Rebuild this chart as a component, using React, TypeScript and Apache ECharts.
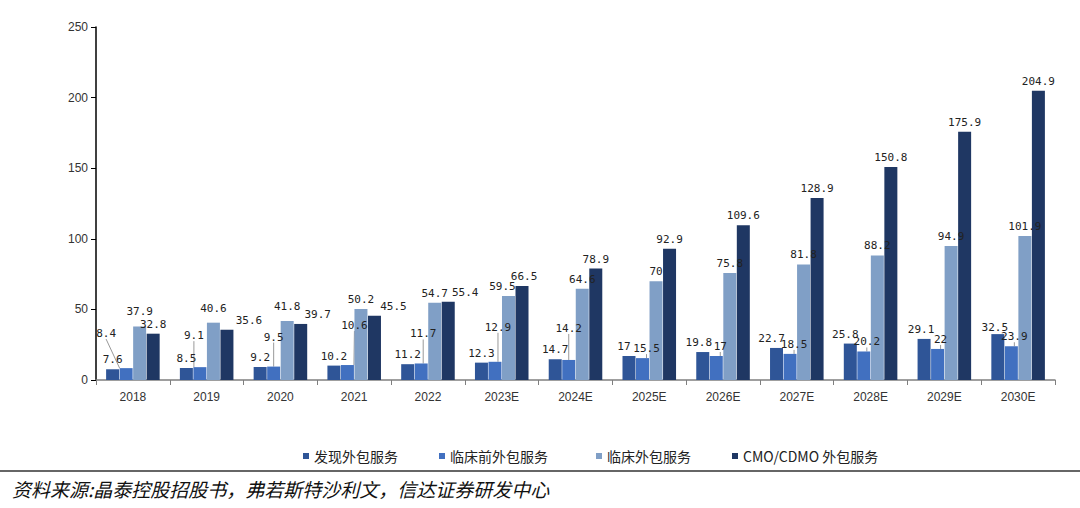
import React, { useEffect, useRef } from "react";
import * as echarts from "echarts";

const categories = ["2018", "2019", "2020", "2021", "2022", "2023E", "2024E", "2025E", "2026E", "2027E", "2028E", "2029E", "2030E"];
const seriesNames = ["发现外包服务", "临床前外包服务", "临床外包服务", "CMO/CDMO 外包服务"];
const discovery = [7.6, 8.5, 9.2, 10.2, 11.2, 12.3, 14.7, 17, 19.8, 22.7, 25.8, 29.1, 32.5];
const preclinical = [8.4, 9.1, 9.5, 10.6, 11.7, 12.9, 14.2, 15.5, 17, 18.5, 20.2, 22, 23.9];
const clinical = [37.9, 40.6, 41.8, 50.2, 54.7, 59.5, 64.6, 70, 75.8, 81.8, 88.2, 94.9, 101.9];
const cmo = [32.8, 35.6, 39.7, 45.5, 55.4, 66.5, 78.9, 92.9, 109.6, 128.9, 150.8, 175.9, 204.9];
const yTicks = [0, 50, 100, 150, 200, 250];

// label displacement (style only)
const discDx = [0, 0, 0, 0, 0, 0, 0, -5, -4, -5, -5, -3, -3];
const discDy = [0, 0, 0, 0, 0, 0, 0, 0, 0, 0, 0, 0, 3];
const preDx = [-20, -6, 0, 7, 2, 3, 0, 4, 4, 4, 3, 3, 3];
const preDy = [-25, -22, -20, -30, -20, -25, -22, 0, 0, 0, 0, 0, 0];
const clinDx = [0, 0, 0, 0, 0, -6, 0, 0, 0, 0, 0, 0, 0];
const clinDy = [-5, -5, -5, 0, 0, 0, 0, 0, 0, 0, 0, 0, 0];
const cmoDx = [0, 22, 17, 19, 17, 2, 0, 0, 0, 0, 0, 0, 0];

const colors = ["#2F5597", "#4170C0", "#809FC6", "#1F3763"];

export default function App() {
  const ref = useRef<HTMLDivElement>(null);
  useEffect(() => {
    if (!ref.current) return;
    const chart = echarts.init(ref.current, null, { renderer: "svg" });
    const labelBase = {
      show: true,
      position: "top" as const,
      distance: 4,
      fontFamily: "DejaVu Sans Mono",
      fontSize: 11,
      color: "#222",
    };
    const mk = (name: string, data: number[], color: string, extra: any = {}) => ({
      name,
      type: "bar",
      data,
      barWidth: 13,
      barGap: "4%",
      itemStyle: { color },
      label: labelBase,
      ...extra,
    });
    const legendLefts = [298, 434, 591, 727];
    chart.setOption({
      animation: false,
      color: colors,
      grid: { left: 96, right: 25, top: 27, bottom: 128 },
      legend: seriesNames.map((n, i) => ({
        data: [n],
        left: legendLefts[i],
        top: 444,
        itemWidth: 6,
        itemHeight: 6,
        itemGap: 6,
        icon: "rect",
        textStyle: { fontFamily: "Noto Sans CJK SC", fontSize: 14, color: "#222" },
      })),
      xAxis: {
        type: "category",
        data: categories,
        axisLine: { lineStyle: { color: "#7f7f7f", width: 1.5 } },
        axisTick: { show: true, length: 5, lineStyle: { color: "#7f7f7f" } },
        axisLabel: { fontFamily: "Liberation Sans", fontSize: 12, color: "#333", margin: 11 },
      },
      yAxis: {
        type: "value",
        min: yTicks[0],
        max: yTicks[yTicks.length - 1],
        interval: 50,
        splitLine: { show: false },
        axisLine: { show: true, lineStyle: { color: "#000", width: 1.5 } },
        axisTick: { show: true, length: 5, lineStyle: { color: "#000" } },
        axisLabel: { fontFamily: "Liberation Sans", fontSize: 12, color: "#333", margin: 8 },
      },
      series: [
        mk(seriesNames[0], discovery, colors[0], {
          labelLayout: (p: any) => ({ dx: discDx[p.dataIndex], dy: discDy[p.dataIndex] }),
        }),
        mk(seriesNames[1], preclinical, colors[1], {
          labelLine: { show: true, lineStyle: { color: "#999", width: 1 } },
          labelLayout: (p: any) => ({ dx: preDx[p.dataIndex], dy: preDy[p.dataIndex] }),
        }),
        mk(seriesNames[2], clinical, colors[2], {
          labelLayout: (p: any) => ({ dx: clinDx[p.dataIndex], dy: clinDy[p.dataIndex] }),
        }),
        mk(seriesNames[3], cmo, colors[3], {
          labelLayout: (p: any) => ({ dx: cmoDx[p.dataIndex] }),
        }),
      ],
      graphic: [
        {
          type: "line",
          shape: { x1: 0, y1: 471, x2: 1080, y2: 471 },
          style: { stroke: "#333", lineWidth: 1.5 },
        },
        {
          type: "text",
          left: 12,
          top: 479,
          style: {
            text: "资料来源:晶泰控股招股书，弗若斯特沙利文，信达证券研发中心",
            font: "italic 19px 'Noto Sans CJK SC'",
            fill: "#111",
          },
        },
      ],
    });
    return () => chart.dispose();
  }, []);
  return (
    <div
      ref={ref}
      style={{ position: "fixed", left: 0, top: 0, width: 1080, height: 508, background: "#fff" }}
    />
  );
}
